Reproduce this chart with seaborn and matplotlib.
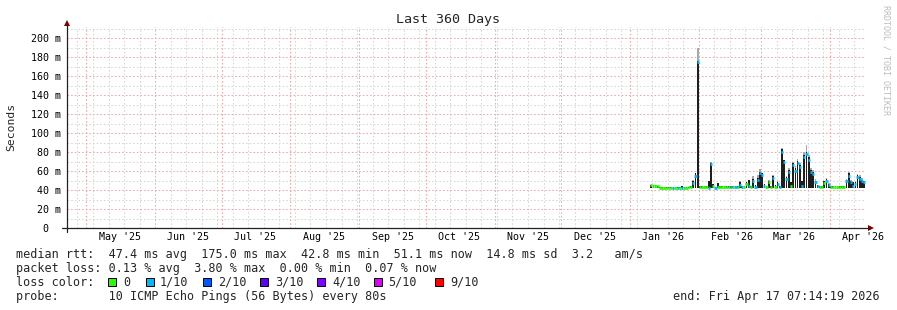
import numpy as np
import pandas as pd
import matplotlib
matplotlib.use("Agg")
import matplotlib.pyplot as plt
import matplotlib.dates as mdates
from matplotlib.patches import Polygon, Rectangle
from matplotlib.lines import Line2D
import seaborn as sns

# ---------------- data ----------------
end_time = "2026-04-17 07:14:19"
span_days = 360
data_start = "2026-01-10"

# per-day median RTT (ms)
median_ms = [
    45, 44.5, 44.5, 44, 42.5, 42.3, 42.5, 42.3, 42.5, 42.5,
    42, 42.5, 42, 42.3, 42.5, 42.3, 42.5, 43, 43, 47.5,
    55, 175, 43.5, 43.5, 43.5, 43, 42, 67, 44, 42.5,
    43.5, 43.5, 43.5, 43.5, 43.5, 43.5, 43, 43.5, 43, 43.5,
    45, 43, 43.5, 46, 44, 43.5, 50, 43, 51, 58,
    56, 44, 43.5, 48, 43.5, 53, 43.5, 46, 43, 80,
    70, 52, 59, 44, 66, 60, 68, 64, 44, 75,
    78, 72, 59, 57, 48, 44, 43.5, 43.5, 47, 50,
    45, 43.5, 43.5, 43.5, 43.5, 43.5, 43.5, 43.5, 50, 55,
    48, 44, 46, 54, 52, 50, 48,
]
# dense smoke upper edge (ms)
smoke_top_ms = [
    45.5, 45, 45, 44.5, 43.5, 43, 43.5, 43, 43.5, 43.5,
    43.5, 43.5, 43.5, 43, 44, 43, 43.5, 43.5, 44, 50,
    57.5, 176, 44, 44, 44, 44, 50, 68.5, 46, 43.5,
    47, 44, 44, 44, 44, 44, 44, 44, 44.5, 44,
    48.8, 44, 44, 48, 50.6, 44, 51.6, 45, 53, 59,
    57.5, 46, 44, 50, 44, 55, 45, 48, 44, 83,
    71.6, 54, 61, 48, 68, 63, 71, 66, 50, 77,
    80, 75, 61, 59, 50, 45, 44, 44, 49, 51.6,
    46, 44, 44, 44, 44, 44, 44, 44, 51, 57.5,
    50, 48, 48, 56, 54, 51, 50,
]
# light smoke upper edge (ms)
smoke_max_ms = [
    45.5, 45, 45, 44.5, 43.5, 43, 43.5, 43, 43.5, 43.5,
    43.5, 43.5, 43.5, 43, 44, 43, 43.5, 43.5, 44, 51,
    58, 189, 44, 44, 44, 44, 50, 69, 46, 43.5,
    47, 44, 44, 44, 44, 44, 44, 44, 44.5, 44,
    49, 44, 44, 48, 51, 44, 55, 45, 56, 62,
    58, 46, 44, 51, 44, 56, 45, 49, 44, 84,
    72, 55, 63, 48, 70, 65, 73, 68, 50, 80,
    87, 77, 63, 61, 52, 45, 44, 44, 50, 53,
    47, 44, 44, 44, 44, 44, 44, 44, 52, 59,
    51, 48, 49, 57, 56, 53, 50,
]
smoke_floor_ms = 42.0
# packet loss per day, in tenths
loss_tenths = [
    0, 0, 0, 0, 0, 0, 0, 0, 0, 0,
    1, 0, 1, 0, 1, 0, 0, 0, 0, 1,
    1, 1, 0, 0, 0, 0, 1, 1, 0, 1,
    0, 0, 0, 0, 0, 0, 1, 0, 1, 0,
    1, 1, 0, 0, 1, 0, 1, 1, 1, 1,
    1, 1, 0, 0, 0, 1, 0, 1, 1, 1,
    1, 1, 1, 0, 1, 1, 1, 1, 1, 1,
    1, 1, 1, 1, 1, 1, 0, 0, 0, 1,
    1, 0, 0, 0, 0, 0, 0, 0, 1, 1,
    1, 1, 1, 1, 1, 1, 1,
]
loss_labels = ["0", "1/10", "2/10", "3/10", "4/10", "5/10", "9/10"]
loss_levels = [0, 1, 2, 3, 4, 5, 9]
loss_colors = ["#26ff00", "#00b8ff", "#0059ff", "#5e00ff", "#7e00ff", "#dd00ff", "#ff0000"]

month_labels = ["May '25", "Jun '25", "Jul '25", "Aug '25", "Sep '25", "Oct '25",
                "Nov '25", "Dec '25", "Jan '26", "Feb '26", "Mar '26", "Apr '26"]
month_starts = ["2025-05-01", "2025-06-01", "2025-07-01", "2025-08-01", "2025-09-01",
                "2025-10-01", "2025-11-01", "2025-12-01", "2026-01-01", "2026-02-01",
                "2026-03-01", "2026-04-01"]
y_ticks = [0, 20, 40, 60, 80, 100, 120, 140, 160, 180, 200]

rtt_stats = [47.4, 175.0, 42.8, 51.1, 14.8, 3.2]
loss_stats = [0.13, 3.80, 0.00, 0.07]
probe_text = "10 ICMP Echo Pings (56 Bytes) every 80s"
end_text = "end: Fri Apr 17 07:14:19 2026"

# ---------------- figure ----------------
sns.set_theme(style="white")
plt.rcParams['font.family'] = ['DejaVu Sans Mono', 'DejaVu Sans']

W, H = 897, 310
fig = plt.figure(figsize=(W / 100, H / 100), dpi=100, facecolor="white")
ax = fig.add_axes([67 / W, (H - 228) / H, 799 / W, 201 / H])
ax.set_facecolor("white")
for s in ax.spines.values():
    s.set_visible(False)

t_end = mdates.date2num(pd.Timestamp(end_time))
t_start = t_end - span_days
ax.set_xlim(t_start, t_end)
ax.set_ylim(0, 211.6)

GREY = "#d6d6d6"
RED = "#f2a7a7"
dots = (0, (1.5, 2))
# vertical grid: weekly (grey) + monthly (red)
sundays = mdates.date2num(pd.date_range("2025-04-27", pd.Timestamp(end_time), freq="7D"))
mstarts = mdates.date2num(pd.to_datetime(month_starts))
for s in sundays:
    if not np.any(np.isclose(s, mstarts)):
        ax.axvline(s, color=GREY, lw=0.75, ls=dots, zorder=1)
for m in mstarts:
    ax.axvline(m, color=RED, lw=0.75, ls=dots, zorder=1.2)
for v in range(10, 211, 10):
    ax.axhline(v, color=RED if v % 20 == 0 else GREY, lw=0.75, ls=dots,
               zorder=1.2 if v % 20 == 0 else 1)

# smoke (per-day bars, slightly narrower than a day so individual spikes show)
days = mdates.date2num(pd.date_range(data_start, periods=len(median_ms), freq="D"))
top = np.array(smoke_top_ms)
smax = np.array(smoke_max_ms)
ax.bar(days + 0.5, smax - top, bottom=top, width=0.75, color="#a8a8a8", lw=0, zorder=3)
ax.bar(days + 0.5, top - smoke_floor_ms, bottom=smoke_floor_ms, width=0.75,
       color="#1e1e1e", lw=0, zorder=3.5)

# median coloured by loss
cmap = dict(zip(loss_levels, loss_colors))
ax.hlines(median_ms, days, days + 1, colors=[cmap[l] for l in loss_tenths],
          lw=2.0, zorder=5)

# ticks
ax.set_yticks(y_ticks)
ax.set_yticklabels(["0  " if v == 0 else f"{v} m" for v in y_ticks])
ax.set_xticks(mstarts + 15)
ax.set_xticklabels(month_labels)
ax.tick_params(axis="y", length=0, pad=4.3, labelsize=7.2, colors="black")
ax.tick_params(axis="x", length=0, pad=3.0, labelsize=7.2, colors="black")
ax.grid(False)

# axes lines and arrows (figure pixel coords)
def fx(px): return px / W
def fy(py): return 1 - py / H

fig.add_artist(Line2D([fx(62), fx(869)], [fy(228), fy(228)], color="#222222", lw=0.9))
fig.add_artist(Line2D([fx(67), fx(67)], [fy(232), fy(25)], color="#222222", lw=0.9))
ARROW = "#7f0000"
fig.add_artist(Polygon([[fx(868), fy(225)], [fx(868), fy(231)], [fx(874), fy(228)]],
                       closed=True, color=ARROW, lw=0))
fig.add_artist(Polygon([[fx(64), fy(26)], [fx(70), fy(26)], [fx(67), fy(20)]],
                       closed=True, color=ARROW, lw=0))

# title, labels, watermark
fig.text(fx(448), fy(19), "Last 360 Days", ha="center", va="center", fontsize=9.6)
fig.text(fx(11), fy(127), "Seconds", ha="center", va="center", rotation=90, fontsize=8.2)
fig.text(fx(886), fy(60), "RRDTOOL / TOBI OETIKER", ha="center", va="center",
         rotation=270, fontsize=6, color="#bdbdbd")

# legend
LF = 8.5
line1 = ("median rtt:  {:.1f} ms avg  {:.1f} ms max  {:.1f} ms min  {:.1f} ms now  "
         "{:.1f} ms sd  {:.1f}   am/s").format(*rtt_stats)
line2 = "packet loss: {:.2f} % avg  {:.2f} % max  {:.2f} % min  {:.2f} % now".format(*loss_stats)
fig.text(fx(16), fy(254.3), line1, ha="left", va="center", fontsize=LF)
fig.text(fx(16), fy(268.3), line2, ha="left", va="center", fontsize=LF)
fig.text(fx(16), fy(282.3), "loss color:", ha="left", va="center", fontsize=LF)
sw_x = [108, 146, 203, 260, 317, 374, 435]
lb_x = [123, 160, 218, 275, 332, 388, 450]
for sx, lx, lab, col in zip(sw_x, lb_x, loss_labels, loss_colors):
    fig.add_artist(Rectangle((fx(sx), fy(286)), 8 / W, 8 / H, facecolor=col,
                             edgecolor="black", lw=0.7))
    fig.text(fx(lx), fy(282.3), lab, ha="left", va="center", fontsize=LF)
fig.text(fx(16), fy(296.3), "probe:       " + probe_text, ha="left", va="center", fontsize=LF)
fig.text(fx(880), fy(296.3), end_text, ha="right", va="center", fontsize=LF)

fig.savefig("out.png", dpi=100, facecolor="white")
